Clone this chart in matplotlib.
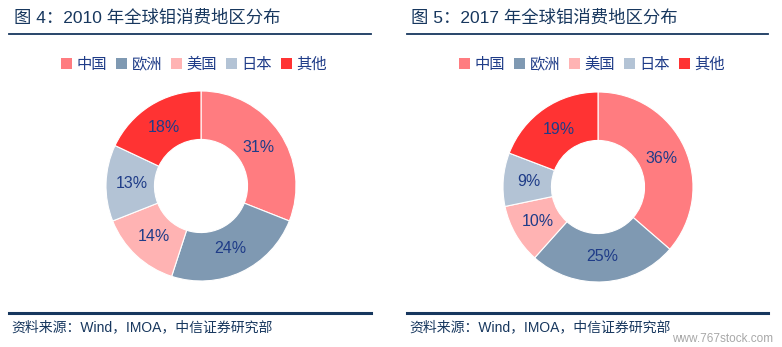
import matplotlib
matplotlib.use("Agg")
import matplotlib.pyplot as plt
from matplotlib.patches import Patch
from matplotlib.lines import Line2D

plt.rcParams['font.family'] = ['Liberation Sans', 'Noto Sans CJK SC', 'DejaVu Sans']

regions = ["中国", "欧洲", "美国", "日本", "其他"]
share_2010 = [31, 24, 14, 13, 18]
share_2017 = [36, 25, 10, 9, 19]
titles = ["图 4：2010 年全球钼消费地区分布", "图 5：2017 年全球钼消费地区分布"]
source = "资料来源：Wind，IMOA，中信证券研究部"

colors = ["#FF7C80", "#7F99B2", "#FFB3B3", "#B3C3D5", "#FF3333"]
navy = "#17375E"
label_color = "#1F3C88"

W, H = 782, 347
fig = plt.figure(figsize=(W / 100, H / 100), dpi=100)
fig.patch.set_facecolor("white")

def fx(px):
    return px / W

def fy(py):
    return 1 - py / H

panels = [
    dict(data=share_2010, title=titles[0], cx=201, cy=186, x0=9, x1=371, tx=14, legx=194),
    dict(data=share_2017, title=titles[1], cx=598, cy=187, x0=407, x1=768, tx=411, legx=592),
]

R = 95
for p in panels:
    # title and rules
    fig.text(fx(p["tx"]), fy(18), p["title"], fontsize=12.5, color=navy,
             va="center", ha="left", fontweight="medium")
    fig.add_artist(Line2D([fx(p["x0"]), fx(p["x1"])], [fy(34), fy(34)],
                          color=navy, lw=1.3))
    fig.add_artist(Line2D([fx(p["x0"]), fx(p["x1"])], [fy(313), fy(313)],
                          color=navy, lw=2.2))
    fig.text(fx(p["x0"] + 2), fy(327), source, fontsize=10, color=navy,
             va="center", ha="left")

    # donut
    ax = fig.add_axes([fx(p["cx"] - R), fy(p["cy"] + R), 2 * R / W, 2 * R / H])
    wedges, _, autotexts = ax.pie(
        p["data"], colors=colors, startangle=90, counterclock=False,
        autopct=lambda v: f"{v:.0f}%", pctdistance=0.73,
        wedgeprops=dict(width=0.51, edgecolor="white", linewidth=0.8),
        textprops=dict(fontsize=11.5, color=label_color),
    )
    ax.set_aspect("equal")
    ax.set_xlim(-1, 1)
    ax.set_ylim(-1, 1)
    ax.axis("off")

    handles = [Patch(facecolor=c, edgecolor="none") for c in colors]
    fig.legend(handles, regions, loc="center", bbox_to_anchor=(fx(p["legx"]), fy(65)),
               ncol=5, frameon=False, fontsize=11, handlelength=0.75,
               handleheight=0.75, handletextpad=0.3, columnspacing=0.55,
               labelcolor=label_color)

fig.text(fx(773), fy(339), "www.767stock.com", fontsize=8.5, color="#A8A8A8",
         ha="right", va="center")

fig.savefig("out.png", dpi=100, facecolor="white")
